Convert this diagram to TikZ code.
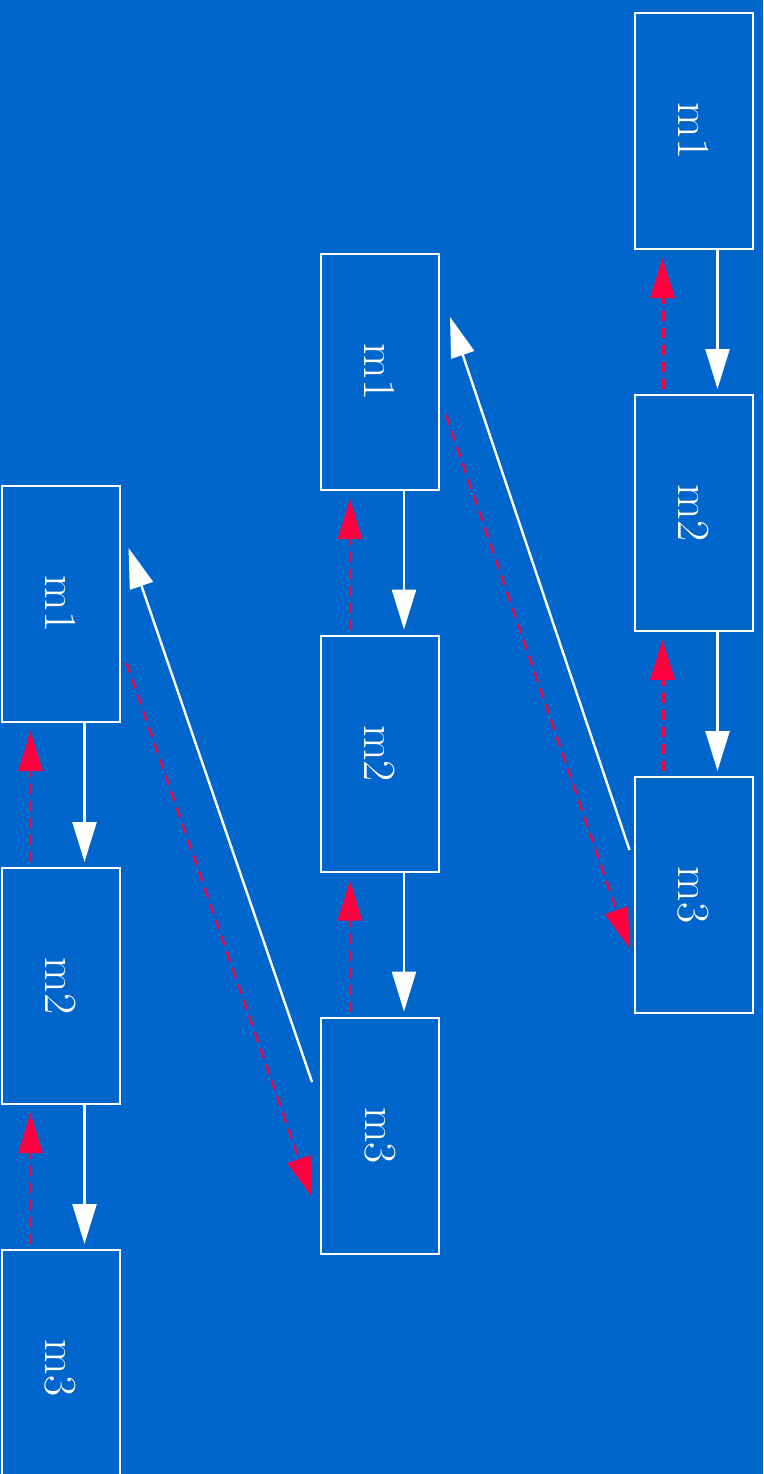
\documentclass[tikz,border=0pt]{standalone}
\usetikzlibrary{arrows.meta,calc}
\definecolor{bgblue}{HTML}{0066CC}
\definecolor{linkred}{HTML}{FF0040}
\tikzset{
  box/.style={draw=white, line width=2pt, fill=bgblue, minimum width=118pt,
    minimum height=236pt, inner sep=0pt, text=white,
    font=\fontsize{46}{50}\selectfont},
  flow/.style={draw=white, line width=2.4pt,
    -{Triangle[length=40pt,width=24pt]}, fill=white},
  back/.style={draw=linkred, line width=2.2pt, dash pattern=on 10pt off 7pt,
    -{Triangle[length=40pt,width=24pt]}, fill=linkred},
  backthick/.style={back, line width=4pt}
}
\newcommand{\vlab}[1]{\rotatebox{-90}{#1}}
\begin{document}
\begin{tikzpicture}[x=1pt,y=-1pt]
  \fill[bgblue] (0,0) rectangle (763,1474);
  \useasboundingbox (0,0) rectangle (763,1474);

  % right column
  \node[box] (r1) at (693.5,131) {\vlab{m1}};
  \node[box] (r2) at (693.5,513) {\vlab{m2}};
  \node[box] (r3) at (693.5,895) {\vlab{m3}};
  % middle column
  \node[box] (c1) at (380,372) {\vlab{m1}};
  \node[box] (c2) at (380,753.5) {\vlab{m2}};
  \node[box] (c3) at (380,1135.5) {\vlab{m3}};
  % left column
  \node[box] (l1) at (60.5,604) {\vlab{m1}};
  \node[box] (l2) at (60.5,986) {\vlab{m2}};
  \node[box] (l3) at (60.5,1368) {\vlab{m3}};

  % forward links inside each column
  \foreach \a/\b in {r1/r2,r2/r3,c1/c2,c2/c3,l1/l2,l2/l3}{
    \draw[flow, shorten >=5pt] ($(\a.south)+(24,0)$) -- ($(\b.north)+(24,0)$);
  }
  % backward links inside each column
  \foreach \a/\b in {r1/r2,r2/r3}{
    \draw[backthick, shorten >=8pt, shorten <=5pt] ($(\b.north)+(-31,0)$) -- ($(\a.south)+(-31,0)$);
  }
  \foreach \a/\b in {c1/c2,c2/c3,l1/l2,l2/l3}{
    \draw[back, shorten >=8pt, shorten <=5pt] ($(\b.north)+(-30,0)$) -- ($(\a.south)+(-30,0)$);
  }

  % links between columns
  \draw[flow] ($(r3.west)+(-4,-45)$) -- ($(c1.east)+(10,-55)$);
  \draw[back] ($(c1.east)+(6,43)$) -- ($(r3.west)+(-4,53)$);
  \draw[flow] ($(c3.west)+(-8,-53.5)$) -- ($(l1.east)+(8,-56)$);
  \draw[back] ($(l1.east)+(6,59)$) -- ($(c3.west)+(-8,61.5)$);
\end{tikzpicture}
\end{document}
